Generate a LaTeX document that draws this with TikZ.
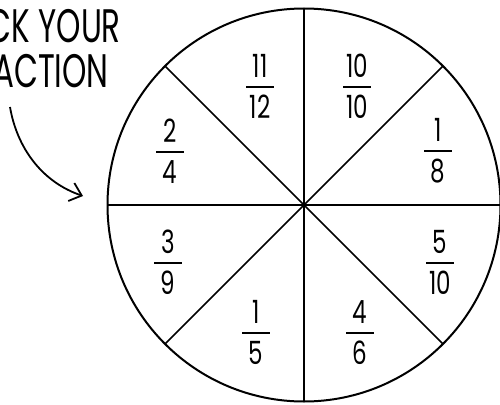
\documentclass[tikz,border=0pt]{standalone}
\usepackage{fontspec}
\setmainfont{Poppins}
\usetikzlibrary{arrows.meta}
\tikzset{
  rim/.style={line width=2pt, black},
  spoke/.style={line width=1.6pt, black},
  barline/.style={line width=1.5pt, black},
  numtxt/.style={inner sep=0pt, font=\fontsize{32}{32}\selectfont},
  hand/.style={inner sep=0pt, font=\fontsize{47}{47}\selectfont},
  arr/.style={line width=1.8pt, -{Straight Barb[length=11pt,width=19pt,line width=1.8pt]}}
}
\newcommand\sqz[1]{\scalebox{0.72}[1]{#1}}
\newcommand\hsqz[1]{\scalebox{0.66}[1]{#1}}
\newcommand\myfrac[5]{%
  \node[numtxt] (#1n) at ({#2},{#3-21}) {\sqz{#4}};
  \coordinate (#1l) at ({#2-14},{#3});
  \coordinate (#1r) at ({#2+14},{#3});
  \draw[barline] (#1l) -- (#1r);
  \node[numtxt] (#1d) at ({#2},{#3+20}) {\sqz{#5}};}
\begin{document}
\begin{tikzpicture}[x=1pt,y=-1pt]
\useasboundingbox (0,0) rectangle (500,404);
\clip (0,0) rectangle (500,404);
\coordinate (c) at (304,205);
\foreach \a in {0,45,...,315} {
  \draw[spoke] (c) -- ++({196.5*cos(\a)},{196.5*sin(\a)});
}
\draw[rim] (c) circle (196.5);
\myfrac{f1}{260}{87}{11}{12}
\myfrac{f2}{357}{87}{10}{10}
\myfrac{f3}{438}{151}{1}{8}
\myfrac{f4}{170}{152}{2}{4}
\myfrac{f5}{168}{263}{3}{9}
\myfrac{f6}{440}{263}{5}{10}
\myfrac{f7}{256}{333}{1}{5}
\myfrac{f8}{360}{333}{4}{6}
\node[hand, anchor=base east] (t1) at (121,43) {\hsqz{CK YOUR}};
\node[hand, anchor=base east] (t2) at (109,87) {\hsqz{ACTION}};
\coordinate (as) at (10,107);
\coordinate (ae) at (83,196);
\draw[arr] (as) .. controls (17,148) and (42,182) .. (ae);
\end{tikzpicture}
\end{document}
